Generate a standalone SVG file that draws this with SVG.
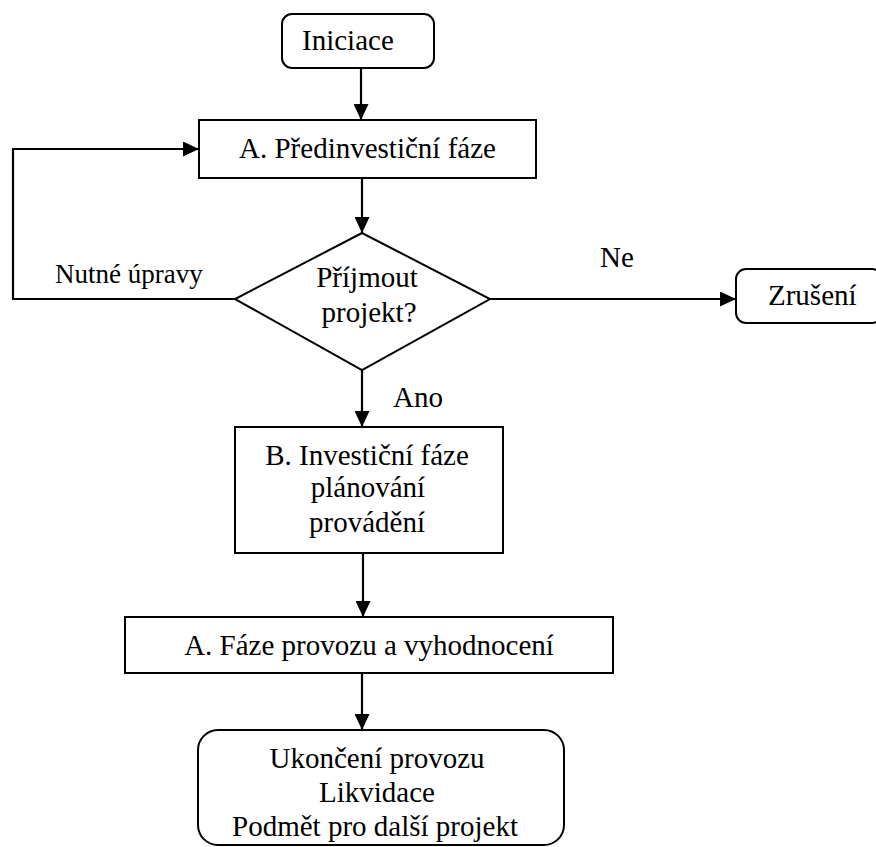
<svg xmlns="http://www.w3.org/2000/svg" width="876" height="847" viewBox="0 0 876 847">
<defs>
<marker id="arr" markerUnits="userSpaceOnUse" markerWidth="16" markerHeight="15" refX="16" refY="7.5" orient="auto">
<path d="M0,0 L16,7.5 L0,15 z" fill="#000"/>
</marker>
<style>
.box{fill:#fff;stroke:#000;stroke-width:2}
text{font-family:'Liberation Serif',serif;fill:#000}
.t{font-size:29px}
.s{font-size:27px}
.c{text-anchor:middle}
.ln{fill:none;stroke:#000;stroke-width:2.2;marker-end:url(#arr)}
</style>
</defs>
<rect width="876" height="847" fill="#fff"/>
<g id="connectors">
<line class="ln" x1="361" y1="68" x2="361" y2="120"/>
<line class="ln" x1="362" y1="178" x2="362" y2="233"/>
<line class="ln" x1="490" y1="299" x2="736" y2="299"/>
<polyline class="ln" points="235,299 13,299 13,149 199,149"/>
<line class="ln" x1="362" y1="370" x2="362" y2="427"/>
<line class="ln" x1="363" y1="553" x2="363" y2="617"/>
<line class="ln" x1="362" y1="673" x2="362" y2="730"/>
<text class="t" x="600" y="267" font-family="Liberation Serif">Ne</text>
<text class="s" x="55" y="283" font-family="Liberation Serif">Nutné úpravy</text>
<text class="t" x="393" y="407" font-family="Liberation Serif">Ano</text>
</g>
<g id="iniciace">
<rect class="box" x="282" y="14" width="152" height="54" rx="10"/>
<text class="t" x="302" y="50" font-family="Liberation Serif">Iniciace</text>
</g>
<g id="predinvesticni">
<rect class="box" x="199" y="120" width="337" height="58"/>
<text class="t c" x="367.5" y="158" font-family="Liberation Serif">A. Předinvestiční fáze</text>
</g>
<g id="rozhodnuti">
<polygon class="box" points="362,233 490,299 362,370 235,299"/>
<text class="t c" x="367" y="287" font-family="Liberation Serif">Příjmout</text>
<text class="t c" x="369" y="322" font-family="Liberation Serif">projekt?</text>
</g>
<g id="zruseni">
<rect class="box" x="736" y="269" width="146" height="54" rx="10"/>
<text class="t" x="768" y="305" font-family="Liberation Serif">Zrušení</text>
</g>
<g id="investicni">
<rect class="box" x="235" y="427" width="268" height="126"/>
<text class="t c" x="367" y="465" font-family="Liberation Serif">B. Investiční fáze</text>
<text class="t c" x="368" y="497" font-family="Liberation Serif">plánování</text>
<text class="t c" x="367" y="532" font-family="Liberation Serif">provádění</text>
</g>
<g id="provoz">
<rect class="box" x="125" y="617" width="488" height="56"/>
<text class="t c" x="369" y="655" font-family="Liberation Serif">A. Fáze provozu a vyhodnocení</text>
</g>
<g id="ukonceni">
<rect class="box" x="198" y="730" width="366" height="115" rx="20"/>
<text class="t c" x="377" y="768" font-family="Liberation Serif">Ukončení provozu</text>
<text class="t c" x="377" y="802" font-family="Liberation Serif">Likvidace</text>
<text class="t c" x="375" y="836" font-family="Liberation Serif">Podmět pro další projekt</text>
</g>
</svg>
